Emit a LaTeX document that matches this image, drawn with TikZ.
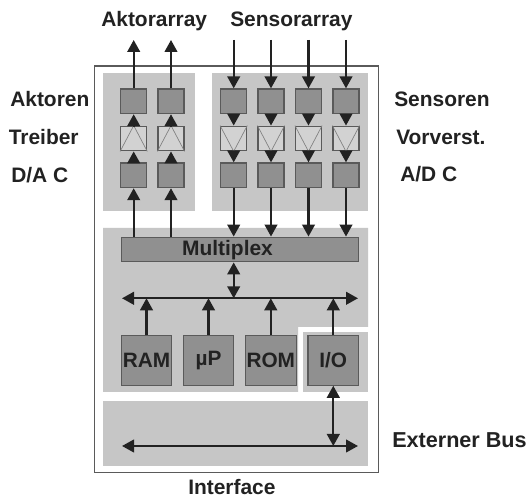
\documentclass[tikz,border=0pt]{standalone}
\usepackage{fontspec}
\setmainfont{Liberation Sans}
\usetikzlibrary{arrows.meta}
\definecolor{panel}{HTML}{C6C6C6}
\definecolor{blockfill}{HTML}{909090}
\definecolor{ampfill}{HTML}{D2D2D2}
\definecolor{edgeg}{HTML}{5A5A5A}
\definecolor{ink}{HTML}{222222}
\tikzset{
  x=0.75pt,y=-0.75pt,
  panelbox/.style={fill=panel,draw=none},
  block/.style={draw=edgeg,fill=blockfill,line width=0.9pt,minimum width=19.5pt,minimum height=18.5pt,inner sep=0pt},
  amp/.style={block,fill=ampfill},
  wide/.style={block,minimum width=38pt,minimum height=37pt,font=\bfseries\fontsize{15.6}{17}\selectfont,text=ink},
  lab/.style={font=\bfseries\fontsize{15.7}{18}\selectfont,text=ink,inner sep=0pt,anchor=base west},
  conn/.style={draw=ink,line width=1.6pt,-{Triangle[length=9pt,width=9.5pt]}},
  conn2/.style={draw=ink,line width=1.6pt,{Triangle[length=9pt,width=9.5pt]}-{Triangle[length=9pt,width=9.5pt]}},
  ampline/.style={draw=gray,line width=0.5pt}
}
\begin{document}
\begin{tikzpicture}
\useasboundingbox[clip] (0,0) rectangle (526,498);
\fill[white] (0,0) rectangle (526,498);
\draw[draw=edgeg,line width=1pt,fill=white] (94.5,66) rectangle (378.5,472.5);
\fill[panelbox] (103,73) rectangle (194.5,211);
\fill[panelbox] (211.5,73) rectangle (368,211);
\fill[panelbox] (103,228) -- (368,228) -- (368,327) -- (298,327) -- (298,392) -- (103,392) -- cycle;
\fill[panelbox] (303,332) rectangle (368,392);
\fill[panelbox] (103,401) rectangle (368,466);

% Actuator columns
\foreach \n/\x in {a1/133.7,a2/171}{
  \node[block] (\n o) at (\x,101.3) {};
  \node[amp] (\n m) at (\x,138.5) {};
  \node[block] (\n i) at (\x,175.3) {};
  \coordinate (\n t) at (\x,40);
  \draw[ampline] (\n m.south west) -- (\n m.north) -- (\n m.south east);
}
% Sensor columns
\foreach \n/\x in {s1/233.7,s2/271,s3/308.5,s4/346}{
  \node[block] (\n o) at (\x,101.3) {};
  \node[amp] (\n m) at (\x,138.5) {};
  \node[block] (\n i) at (\x,175.3) {};
  \coordinate (\n t) at (\x,40);
  \draw[ampline] (\n m.north west) -- (\n m.south) -- (\n m.north east);
}
\node[block,minimum width=178pt] (mux) at (239.8,249.5) {};
\node[font=\bfseries\fontsize{15.7}{18}\selectfont,text=ink,inner sep=0pt] (muxlab) at (227.5,250) {Multiplex};

\node[wide] (ram) at (146.5,360.5) {RAM};
\node[wide] (up) at (208.5,360.5) {µP};
\node[wide] (rom) at (270.8,360.5) {ROM};
\node[wide] (io) at (333.3,360.5) {I/O};

\coordinate (busl) at (122,298.3);
\coordinate (busr) at (358,298.3);
\coordinate (extl) at (122,446);
\coordinate (extr) at (358,446);

% Connectors
\foreach \n in {a1,a2}{
  \draw[conn] (\n o.north) -- (\n t);
  \draw[conn] (\n m.north) -- (\n o.south);
  \draw[conn] (\n i.north) -- (\n m.south);
  \draw[conn] (mux.north -| \n i) -- (\n i.south);
}
\foreach \n in {s1,s2,s3,s4}{
  \draw[conn] (\n t) -- (\n o.north);
  \draw[conn] (\n o.south) -- (\n m.north);
  \draw[conn] (\n m.south) -- (\n i.north);
  \draw[conn] (\n i.south) -- (mux.north -| \n i);
}
\draw[conn2] (busl) -- (busr);
\draw[conn2] (extl) -- (extr);
\draw[conn2] (mux.south -| s1i) -- (busl -| s1i);
\foreach \n in {ram,up,rom,io}{
  \draw[conn] (\n.north) -- (busl -| \n);
}
\draw[conn2] (io.south) -- (extl -| io);

% Labels
\node[lab] (l1) at (101,27) {Aktorarray};
\node[lab] (l2) at (230,27) {Sensorarray};
\node[lab] (l3) at (10,106.5) {Aktoren};
\node[lab] (l4) at (8.5,145) {Treiber};
\node[lab] (l5) at (11,182.5) {D/A C};
\node[lab] (l6) at (394,107) {Sensoren};
\node[lab] (l7) at (396,145) {Vorverst.};
\node[lab] (l8) at (400,182) {A/D C};
\node[lab,font=\bfseries\fontsize{16.2}{18}\selectfont] (l9) at (392,448) {Externer Bus};
\node[lab] (l10) at (188,495) {Interface};
\end{tikzpicture}
\end{document}
